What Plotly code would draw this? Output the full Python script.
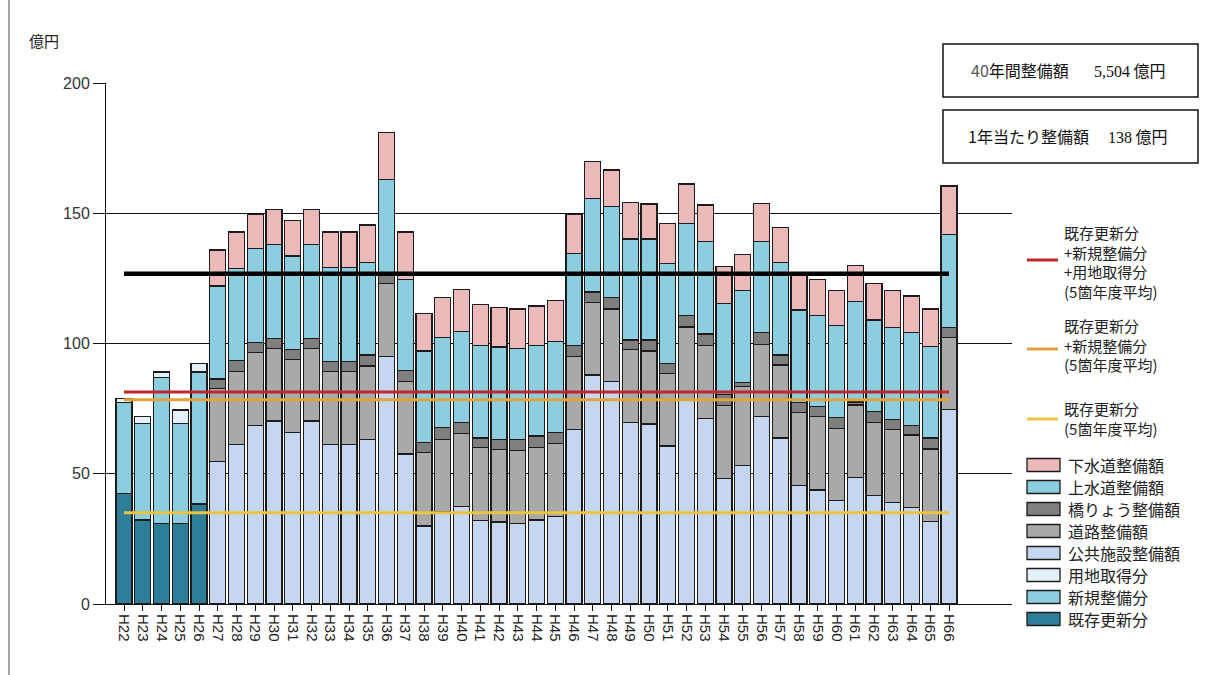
import plotly.graph_objects as go

# canvas and plot-area geometry (pixels)
W_PX, H_PX = 1214, 675
L, R, T, B = 106, 1012, 83, 604

years = ["H22", "H23", "H24", "H25", "H26", "H27", "H28", "H29", "H30", "H31",
         "H32", "H33", "H34", "H35", "H36", "H37", "H38", "H39", "H40", "H41",
         "H42", "H43", "H44", "H45", "H46", "H47", "H48", "H49", "H50", "H51",
         "H52", "H53", "H54", "H55", "H56", "H57", "H58", "H59", "H60", "H61",
         "H62", "H63", "H64", "H65", "H66"]

# H22-H26 (億円)
existing = [42.5, 32.2, 31.0, 31.0, 38.4]   # 既存更新分
new_dev = [34.8, 37.2, 56.0, 38.4, 50.7]    # 新規整備分
land = [1.7, 2.5, 2.1, 5.1, 3.3]            # 用地取得分

# H27-H66 (億円)
public = [54.6, 61.3, 68.6, 70.2, 65.9, 70.2, 61.3, 61.3, 63.2, 94.9,
          57.6, 29.9, 35.4, 37.4, 32.0, 31.5, 31.0, 32.2, 33.5, 67.1,
          87.9, 85.3, 69.7, 69.1, 60.7, 78.3, 71.3, 48.2, 53.1, 71.9,
          63.8, 45.4, 43.8, 39.7, 48.6, 41.6, 39.0, 37.0, 31.6, 74.7]
road = [28.2, 27.9, 28.0, 27.9, 28.0, 27.9, 27.9, 27.9, 28.2, 28.2,
        27.7, 28.2, 27.8, 28.1, 28.0, 27.9, 27.9, 27.8, 28.2, 27.8,
        27.8, 27.9, 28.1, 28.0, 27.9, 28.1, 28.0, 28.1, 30.5, 27.8,
        27.9, 28.0, 28.1, 27.7, 27.8, 28.1, 28.1, 27.9, 27.9, 27.7]
bridge = [3.5, 4.2, 3.9, 3.9, 3.9, 3.9, 3.8, 3.8, 4.2, 3.1,
          4.3, 4.0, 4.5, 4.2, 3.8, 3.8, 4.3, 4.5, 4.2, 4.3,
          4.1, 4.4, 3.5, 4.2, 3.8, 4.3, 4.3, 4.1, 1.4, 4.5,
          3.9, 4.0, 3.9, 4.1, 1.1, 4.1, 3.8, 3.7, 4.3, 3.8]
water = [35.8, 35.5, 35.9, 36.1, 35.8, 36.1, 36.1, 36.1, 35.4, 36.8,
         35.0, 35.0, 34.7, 34.8, 35.4, 35.5, 34.8, 34.7, 34.8, 35.4,
         35.9, 34.9, 38.8, 38.8, 38.4, 35.4, 35.5, 35.0, 35.3, 34.9,
         35.4, 35.5, 34.9, 35.3, 38.6, 35.2, 35.3, 35.7, 35.0, 35.7]
sewer = [13.8, 13.9, 13.2, 13.4, 13.6, 13.4, 13.7, 13.7, 14.5, 18.1,
         18.2, 14.5, 15.2, 16.3, 15.8, 15.2, 15.2, 15.2, 15.7, 15.0,
         14.1, 14.1, 14.1, 13.5, 15.3, 15.1, 14.1, 14.1, 13.9, 14.7,
         13.5, 13.4, 13.9, 13.5, 13.9, 14.0, 14.1, 13.9, 14.4, 18.6]

# reference levels (億円)
avg_all = 81.4        # 既存更新分+新規整備分+用地取得分 (5箇年度平均)
avg_exist_new = 78.4  # 既存更新分+新規整備分 (5箇年度平均)
avg_exist = 35.0      # 既存更新分 (5箇年度平均)
level_line = 126.8

total_label = "5,504"
per_year_label = "138"

JP = "Noto Sans CJK JP"
SANS = "Liberation Sans"
SERIF = "Liberation Serif"
EDGE = "#1c1c1c"

bar_series = [
    # name, x, values, colour
    ("既存更新分", years[:5], existing, "#2F7E98"),
    ("新規整備分", years[:5], new_dev, "#8DCDE0"),
    ("用地取得分", years[:5], land, "#E3F1F6"),
    ("公共施設整備額", years[5:], public, "#C6D6EF"),
    ("道路整備額", years[5:], road, "#A9A9A9"),
    ("橋りょう整備額", years[5:], bridge, "#7F7F80"),
    ("上水道整備額", years[5:], water, "#8DCDE0"),
    ("下水道整備額", years[5:], sewer, "#EBB9BA"),
]

fig = go.Figure()
for name, xs, vals, col in bar_series:
    fig.add_trace(go.Bar(
        x=xs, y=vals, name=name,
        marker=dict(color=col, line=dict(color=EDGE, width=1.4)),
        showlegend=False,
    ))

line_series = [
    (level_line, "#000000", 4.5),
    (avg_all, "#C1272D", 3),
    (avg_exist_new, "#E2A23C", 3),
    (avg_exist, "#E9C443", 3),
]
for val, col, w in line_series:
    fig.add_trace(go.Scatter(
        x=years, y=[val] * len(years), mode="lines",
        line=dict(color=col, width=w), showlegend=False, hoverinfo="skip",
    ))


def xp(px):
    return (px - L) / (R - L)


def yp(py):
    return (B - py) / (B - T)


shapes = []
annotations = []

# outer frame edge
shapes.append(dict(type="line", xref="paper", yref="paper",
                   x0=xp(9), x1=xp(9), y0=yp(0), y1=yp(H_PX),
                   line=dict(color="#8a8a8a", width=1.5)))

# unit label
annotations.append(dict(text="億円", xref="paper", yref="paper",
                        x=xp(27), y=yp(41), xanchor="left", yanchor="middle",
                        showarrow=False, font=dict(family=JP, size=15, color="#222")))

# summary boxes
boxes = [
    (44, 97, 969, '<span style="color:#555">40</span>年間整備額',
     1092, total_label),
    (110, 163, 966, "1年当たり整備額", 1106, per_year_label),
]
for top, bot, tx, label, nx, num in boxes:
    shapes.append(dict(type="rect", xref="paper", yref="paper",
                       x0=xp(943), x1=xp(1198), y0=yp(bot), y1=yp(top),
                       line=dict(color="#111", width=1.5), fillcolor="white"))
    mid = (top + bot) / 2
    annotations.append(dict(text=label, xref="paper", yref="paper",
                            x=xp(tx), y=yp(mid), xanchor="left", yanchor="middle",
                            showarrow=False, font=dict(family=JP, size=16, color="#111")))
    annotations.append(dict(
        text=f'<span style="font-family:{SERIF}">{num}</span> 億円',
        xref="paper", yref="paper", x=xp(nx), y=yp(mid),
        xanchor="left", yanchor="middle", showarrow=False,
        font=dict(family=JP, size=16, color="#111")))

# legend: reference lines
line_legend = [
    ("既存更新分<br>+新規整備分<br>+用地取得分<br>(5箇年度平均)", "#C1272D", 262, 260),
    ("既存更新分<br>+新規整備分<br>(5箇年度平均)", "#E2A23C", 345, 349),
    ("既存更新分<br>(5箇年度平均)", "#E9C443", 418, 419),
]
for text, col, ty, ly in line_legend:
    shapes.append(dict(type="line", xref="paper", yref="paper",
                       x0=xp(1027), x1=xp(1058), y0=yp(ly), y1=yp(ly),
                       line=dict(color=col, width=3)))
    annotations.append(dict(text=text, xref="paper", yref="paper",
                            x=xp(1062), y=yp(ty), xanchor="left", yanchor="middle",
                            align="left", showarrow=False,
                            font=dict(family=JP, size=15, color="#222")))

# legend: bar series (top row = top of stack)
row_y = [465, 487, 509, 531, 553, 575, 597, 619]
for (name, _, _, col), cy in zip(reversed(bar_series), row_y):
    shapes.append(dict(type="rect", xref="paper", yref="paper",
                       x0=xp(1027), x1=xp(1060), y0=yp(cy + 6.5), y1=yp(cy - 6.5),
                       line=dict(color=EDGE, width=1.3), fillcolor=col))
    annotations.append(dict(text=name, xref="paper", yref="paper",
                            x=xp(1066), y=yp(cy), xanchor="left", yanchor="middle",
                            showarrow=False, font=dict(family=JP, size=16, color="#222")))

spacing = 18.75
x0 = (L - 124) / spacing
x1 = x0 + (R - L) / spacing

fig.update_layout(
    width=W_PX, height=H_PX, autosize=False,
    margin=dict(l=L, r=W_PX - R, t=T, b=H_PX - B, pad=0),
    paper_bgcolor="white", plot_bgcolor="white",
    barmode="stack", bargap=0.15,
    showlegend=False,
    shapes=shapes, annotations=annotations,
    xaxis=dict(type="category", categoryorder="array", categoryarray=years,
               range=[x0, x1], tickangle=90, ticks="outside", ticklen=6,
               tickcolor="#111", showline=True, linecolor="#111", linewidth=1,
               showgrid=False, tickfont=dict(family=SANS, size=15, color="#222")),
    yaxis=dict(range=[0, 200], tickvals=[0, 50, 100, 150, 200],
               showgrid=True, gridcolor="#111", gridwidth=1,
               showline=True, linecolor="#111", linewidth=1,
               ticks="outside", ticklen=12, tickcolor="#111", zeroline=False,
               tickfont=dict(family=SANS, size=16, color="#333")),
)

fig.write_html("out.html")
